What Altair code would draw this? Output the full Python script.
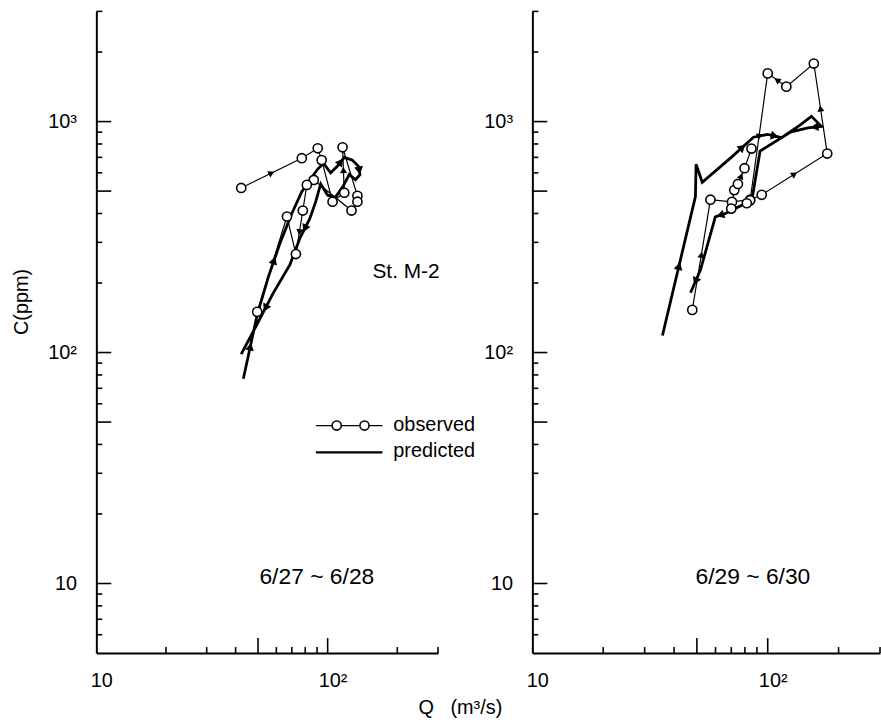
import math
import altair as alt
import pandas as pd

FONT = "Liberation Sans"

# ---------------- data (Q in m3/s, C in ppm) ----------------
# Left panel: 6/27 ~ 6/28
L_OBS_Q = [42.3, 77.3, 90.6, 94.2, 105.0, 118.0, 116.0, 134.5, 134.5, 126.8, 87.1, 81.3, 78.1, 72.9, 66.7, 49.6]
L_OBS_C = [516, 694, 766, 681, 450, 492, 774, 477, 450, 412, 559, 532, 412, 267, 388, 150]
L_PRE_Q = [43.2, 49.6, 55.3, 62.2, 70.0, 77.3, 84.0, 90.6, 96.0, 103.0, 110.0, 118.0, 128.0, 136.0, 138.0,
           132.0, 124.0, 116.0, 108.0, 100.0, 93.3, 88.8, 83.7, 75.8, 68.7, 58.0, 50.0, 42.3]
L_PRE_C = [77, 146, 211, 297, 400, 497, 560, 623, 660, 600, 640, 700, 680, 640, 590,
           560, 590, 520, 470, 480, 537, 450, 380, 312, 240, 180, 135, 98.5]
L_OBS_ARROWS = [0, 5, 12]
L_PRE_ARROWS = [0, 2, 10, 13, 22, 25]

# Right panel: 6/29 ~ 6/30
R_OBS_Q = [47.8, 57.1, 70.5, 84.2, 94.3, 179.0, 157.0, 120.0, 100.0, 84.2, 81.5, 70.0, 72.1, 74.7, 79.7, 85.3]
R_OBS_C = [153, 459, 449, 459, 482, 727, 1784, 1417, 1617, 456, 443, 420, 505, 537, 628, 764]
R_PRE_Q = [35.7, 49.3, 49.6, 52.7, 70.0, 87.0, 100.0, 114.6, 138.0, 153.4, 169.0, 148.0, 125.0,
           92.8, 85.6, 66.1, 59.9, 51.8, 47.0]
R_PRE_C = [118.5, 473, 654, 546, 700, 856, 880, 852, 970, 1054, 954, 940, 900,
           746, 456, 400, 387, 228, 181.5]
R_OBS_ARROWS = [0, 4, 5, 7, 8, 13]
R_PRE_ARROWS = [0, 4, 6, 10, 15, 17]

# axis ticks
X_LABELS = [10, 100]
Y_LABELS = [10, 100, 1000]
X_TICKS_LONG = [50, 100]
X_TICKS_SHORT = [20, 30, 40, 60, 70, 80, 90, 200, 300]
Y_TICKS_LONG = [10, 50, 100, 500, 1000]
Y_TICKS_SHORT = [6, 7, 8, 9, 20, 30, 40, 60, 70, 80, 90, 200, 300, 400, 600, 700, 800, 900, 2000, 3000]

X_DOMAIN = [10, 300]
Y_DOMAIN = [5, 3000]

LABEL_EXPR = "datum.value == 100 ? '10²' : datum.value == 1000 ? '10³' : '10'"


def path_df(q, c):
    return pd.DataFrame({"Q": q, "C": c, "i": list(range(len(q)))})


def arrow_df(q, c, segs):
    rows = []
    for s in segs:
        lq1, lq2 = math.log10(q[s]), math.log10(q[s + 1])
        lc1, lc2 = math.log10(c[s]), math.log10(c[s + 1])
        ang = math.degrees(math.atan2(lq2 - lq1, lc2 - lc1)) % 360
        rows.append({"Q": 10 ** ((lq1 + lq2) / 2), "C": 10 ** ((lc1 + lc2) / 2), "ang": ang})
    return pd.DataFrame(rows)


def panel(oq, oc, pq, pc, oarr, parr, W, H, date_text, left=False):
    xs = alt.Scale(type="log", domain=X_DOMAIN, nice=False)
    ys = alt.Scale(type="log", domain=Y_DOMAIN, nice=False)

    if left:
        xaxis = alt.Axis(values=X_LABELS, labelExpr=LABEL_EXPR, title="Q\u00a0\u00a0\u00a0(m³/s)",
                         titleX=366, titleY=55, titleAlign="center", titleBaseline="middle")
        yaxis = alt.Axis(values=Y_LABELS, labelExpr=LABEL_EXPR, title="C(ppm)",
                         titleX=-75, titleY=292, titleAlign="center", titleBaseline="middle",
                         titleAngle=270)
    else:
        xaxis = alt.Axis(values=X_LABELS, labelExpr=LABEL_EXPR, title=None)
        yaxis = alt.Axis(values=Y_LABELS, labelExpr=LABEL_EXPR, title=None)

    X = alt.X("Q:Q", scale=xs, axis=xaxis)
    Y = alt.Y("C:Q", scale=ys, axis=yaxis)

    pre = alt.Chart(path_df(pq, pc)).mark_line(color="black", strokeWidth=2.8).encode(
        x=X, y=Y, order="i:Q")
    obs = alt.Chart(path_df(oq, oc)).mark_line(color="black", strokeWidth=1.2).encode(
        x=X, y=Y, order="i:Q")
    pts = alt.Chart(path_df(oq, oc)).mark_point(
        shape="circle", size=85, fill="white", stroke="black", strokeWidth=1.6, opacity=1,
        filled=False).encode(x=X, y=Y)
    oar = alt.Chart(arrow_df(oq, oc, oarr)).mark_point(
        shape="triangle-up", size=50, filled=True, color="black", opacity=1).encode(
        x=X, y=Y, angle=alt.Angle("ang:Q", scale=None))
    par = alt.Chart(arrow_df(pq, pc, parr)).mark_point(
        shape="triangle-up", size=80, filled=True, color="black", opacity=1).encode(
        x=X, y=Y, angle=alt.Angle("ang:Q", scale=None))

    ytl = alt.Chart(pd.DataFrame({"C": Y_TICKS_LONG})).mark_rule(color="black", strokeWidth=1.6).encode(
        y=Y, x=alt.value(0), x2=alt.value(15))
    yts = alt.Chart(pd.DataFrame({"C": Y_TICKS_SHORT})).mark_rule(color="black", strokeWidth=1.6).encode(
        y=Y, x=alt.value(0), x2=alt.value(6))
    xtl = alt.Chart(pd.DataFrame({"Q": X_TICKS_LONG})).mark_rule(color="black", strokeWidth=1.6).encode(
        x=X, y=alt.value(H), y2=alt.value(H - 15))
    xts = alt.Chart(pd.DataFrame({"Q": X_TICKS_SHORT})).mark_rule(color="black", strokeWidth=1.6).encode(
        x=X, y=alt.value(H), y2=alt.value(H - 6))

    one = pd.DataFrame({"k": [0]})
    date = alt.Chart(one).mark_text(font=FONT, fontSize=23, color="black").encode(
        x=alt.value(222), y=alt.value(570), text=alt.value(date_text))

    layers = [pre, ytl, yts, xtl, xts, obs, pts, oar, par, date]

    if left:
        st = alt.Chart(one).mark_text(font=FONT, fontSize=21, color="black", align="left").encode(
            x=alt.value(278), y=alt.value(262), text=alt.value("St. M-2"))
        lg_line1 = alt.Chart(one).mark_rule(color="black", strokeWidth=1.2).encode(
            x=alt.value(221), x2=alt.value(288), y=alt.value(417))
        lg_pt1 = alt.Chart(one).mark_point(shape="circle", size=85, fill="white", stroke="black",
                                          strokeWidth=1.6, opacity=1).encode(
            x=alt.value(242), y=alt.value(417))
        lg_pt2 = alt.Chart(one).mark_point(shape="circle", size=85, fill="white", stroke="black",
                                          strokeWidth=1.6, opacity=1).encode(
            x=alt.value(270), y=alt.value(417))
        lg_line2 = alt.Chart(one).mark_rule(color="black", strokeWidth=2.2).encode(
            x=alt.value(221), x2=alt.value(288), y=alt.value(444))
        lg_t1 = alt.Chart(one).mark_text(font=FONT, fontSize=20, color="black", align="left").encode(
            x=alt.value(299), y=alt.value(416), text=alt.value("observed"))
        lg_t2 = alt.Chart(one).mark_text(font=FONT, fontSize=20, color="black", align="left").encode(
            x=alt.value(299), y=alt.value(443), text=alt.value("predicted"))
        layers += [st, lg_line1, lg_pt1, lg_pt2, lg_line2, lg_t1, lg_t2]

    return alt.layer(*layers).properties(width=W, height=H)


left = panel(L_OBS_Q, L_OBS_C, L_PRE_Q, L_PRE_C, L_OBS_ARROWS, L_PRE_ARROWS,
             344, 646, "6/27 ~ 6/28", left=True)
right = panel(R_OBS_Q, R_OBS_C, R_PRE_Q, R_PRE_C, R_OBS_ARROWS, R_PRE_ARROWS,
              350, 646, "6/29 ~ 6/30", left=False)

chart = alt.hconcat(left, right, spacing=95, bounds="flush").properties(
    padding={"left": 12, "top": 8, "right": 0, "bottom": 5},
    background="white",
).configure_view(stroke=None).configure_axis(
    ticks=False, grid=False, domainColor="black", domainWidth=2,
    labelFont=FONT, labelFontSize=20, labelColor="black", labelFlush=False,
    titleFont=FONT, titleFontSize=20, titleFontWeight="normal", titleColor="black",
).configure_axisX(labelPadding=18, labelOffset=5).configure_axisY(labelPadding=20).configure_concat(spacing=95)

chart.save("out.html", embed_options={"renderer": "svg", "actions": False})
